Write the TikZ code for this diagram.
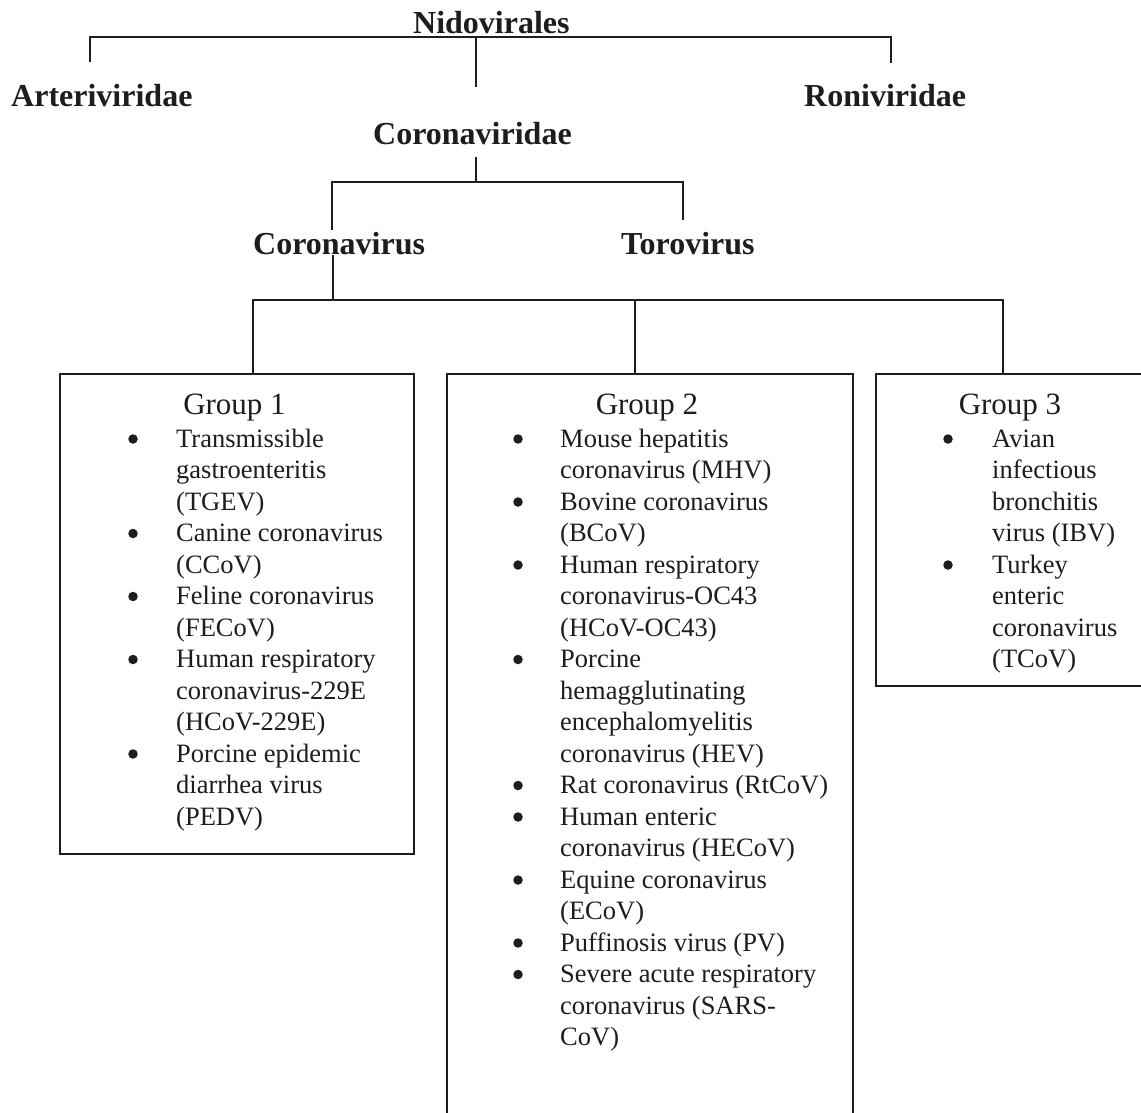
\documentclass[tikz,border=0pt]{standalone}
\usepackage{fontspec}
\setmainfont{Liberation Serif}
\definecolor{ink}{RGB}{30,28,30}
\newcommand\hdfont{\fontsize{32}{36}\selectfont\bfseries}
\newcommand\grfont{\fontsize{31}{36}\selectfont}
\newcommand\itfont{\fontsize{26.5}{31.5}\selectfont}
\tikzset{
  hdr/.style={font=\hdfont, text=ink, inner sep=0pt, anchor=base west},
  grp/.style={font=\grfont, text=ink, inner sep=0pt, anchor=base},
  itm/.style={font=\itfont, text=ink, inner sep=0pt, anchor=base west},
  bul/.style={circle, fill=ink, draw=none, inner sep=0pt, minimum size=9.5pt},
  conn/.style={draw=ink, line width=1.6pt},
  boxst/.style={draw=ink, line width=1.5pt, fill=none}
}
\newcommand\lns[1]{\begin{tabular}[t]{@{}l@{}}#1\end{tabular}}
\begin{document}
\begin{tikzpicture}[x=1pt,y=-1pt]
\useasboundingbox (0,0) rectangle (1141,1112);
\clip (0,0) rectangle (1141,1112);
% headers
\node[hdr] (nid) at (413,33) {Nidovirales};
\node[hdr] (art) at (11,106.5) {Arteriviridae};
\node[hdr] (ron) at (804,106.5) {Roniviridae};
\node[hdr] (cvd) at (373,144) {Coronaviridae};
\node[hdr] (cov) at (253,254) {Coronavirus};
\node[hdr] (tor) at (621,254) {Torovirus};
% tree level 1
\coordinate (t1l) at (90,37);
\coordinate (t1m) at (476,37);
\coordinate (t1r) at (891,37);
\coordinate (a1) at (90,62);
\coordinate (c1) at (476,87);
\coordinate (r1) at (891,63);
\draw[conn] (a1) -- (t1l) -- (t1r) -- (r1);
\draw[conn] (t1m) -- (c1);
% tree level 2
\coordinate (s1) at (476,157);
\coordinate (s2) at (476,182);
\coordinate (s2l) at (332,182);
\coordinate (s2r) at (683,182);
\coordinate (s3l) at (332,230);
\coordinate (s3r) at (683,220);
\draw[conn] (s1) -- (s2);
\draw[conn] (s3l) -- (s2l) -- (s2r) -- (s3r);
% boxes
\node[boxst, anchor=north west, minimum width=354pt, minimum height=480pt, inner sep=0pt] (g1) at (59,373) {};
\node[boxst, anchor=north west, minimum width=406pt, minimum height=760pt, inner sep=0pt] (g2) at (446,373) {};
\node[boxst, anchor=north west, minimum width=280pt, minimum height=312pt, inner sep=0pt] (g3) at (875,373) {};
% tree level 3
\coordinate (u1) at (333,255);
\coordinate (u2) at (333,300);
\coordinate (u2l) at (253,300);
\coordinate (u2m) at (635,300);
\coordinate (u2r) at (1003,300);
\draw[conn] (u1) -- (u2);
\draw[conn] (g1.north -| u2l) -- (u2l) -- (u2r) -- (g3.north -| u2r);
\draw[conn] (u2m) -- (g2.north -| u2m);
% group headings
\node[grp] (h1) at (234.5,414) {Group 1};
\node[grp] (h2) at (647,414) {Group 2};
\node[grp] (h3) at (1010,414) {Group 3};
% Group 1 items
\node[bul] (b11) at (133,439) {};
\node[itm] (i11) at (176,447) {\lns{Transmissible\\gastroenteritis\\(TGEV)}};
\node[bul] (b12) at (133,533.5) {};
\node[itm] (i12) at (176,541.5) {\lns{Canine coronavirus\\(CCoV)}};
\node[bul] (b13) at (133,596.5) {};
\node[itm] (i13) at (176,604.5) {\lns{Feline coronavirus\\(FECoV)}};
\node[bul] (b14) at (133,659.5) {};
\node[itm] (i14) at (176,667.5) {\lns{Human respiratory\\coronavirus-229E\\(HCoV-229E)}};
\node[bul] (b15) at (133,754) {};
\node[itm] (i15) at (176,762) {\lns{Porcine epidemic\\diarrhea virus\\(PEDV)}};
% Group 2 items
\node[bul] (b21) at (518,439) {};
\node[itm] (i21) at (560,447) {\lns{Mouse hepatitis\\coronavirus (MHV)}};
\node[bul] (b22) at (518,502) {};
\node[itm] (i22) at (560,510) {\lns{Bovine coronavirus\\(BCoV)}};
\node[bul] (b23) at (518,565) {};
\node[itm] (i23) at (560,573) {\lns{Human respiratory\\coronavirus-OC43\\(HCoV-OC43)}};
\node[bul] (b24) at (518,659.5) {};
\node[itm] (i24) at (560,667.5) {\lns{Porcine\\hemagglutinating\\encephalomyelitis\\coronavirus (HEV)}};
\node[bul] (b25) at (518,785.5) {};
\node[itm] (i25) at (560,793.5) {\lns{Rat coronavirus (RtCoV)}};
\node[bul] (b26) at (518,817) {};
\node[itm] (i26) at (560,825) {\lns{Human enteric\\coronavirus (HECoV)}};
\node[bul] (b27) at (518,880) {};
\node[itm] (i27) at (560,888) {\lns{Equine coronavirus\\(ECoV)}};
\node[bul] (b28) at (518,943) {};
\node[itm] (i28) at (560,951) {\lns{Puffinosis virus (PV)}};
\node[bul] (b29) at (518,974.5) {};
\node[itm] (i29) at (560,982.5) {\lns{Severe acute respiratory\\coronavirus (SARS-\\CoV)}};
% Group 3 items
\node[bul] (b31) at (948,439) {};
\node[itm] (i31) at (992,447) {\lns{Avian\\infectious\\bronchitis\\virus (IBV)}};
\node[bul] (b32) at (948,565) {};
\node[itm] (i32) at (992,573) {\lns{Turkey\\enteric\\coronavirus\\(TCoV)}};
\end{tikzpicture}
\end{document}
